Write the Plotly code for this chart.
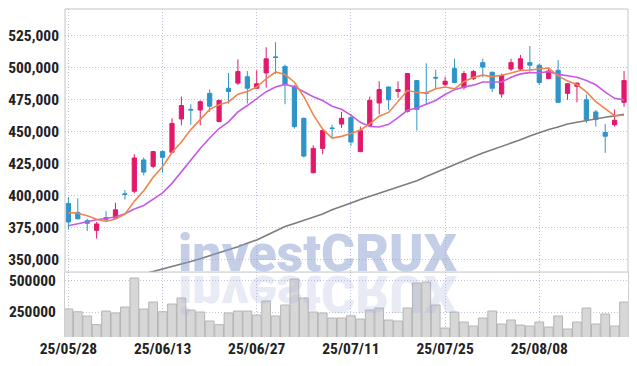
import plotly.graph_objects as go

dates = ["25/05/28","25/05/29","25/05/30","25/06/02","25/06/04","25/06/05","25/06/09","25/06/10","25/06/11","25/06/12",
         "25/06/13","25/06/16","25/06/17","25/06/18","25/06/19","25/06/20","25/06/23","25/06/24","25/06/25","25/06/26",
         "25/06/27","25/06/30","25/07/01","25/07/02","25/07/03","25/07/04","25/07/07","25/07/08","25/07/09","25/07/10",
         "25/07/11","25/07/14","25/07/15","25/07/16","25/07/17","25/07/18","25/07/21","25/07/22","25/07/23","25/07/24",
         "25/07/25","25/07/28","25/07/29","25/07/30","25/07/31","25/08/01","25/08/04","25/08/05","25/08/06","25/08/07",
         "25/08/08","25/08/11","25/08/12","25/08/13","25/08/14","25/08/18","25/08/19","25/08/20","25/08/21","25/08/22"]

opens = [394000,387000,380500,373000,383000,382500,401500,403500,428000,423000,
         434500,434000,460000,467500,467000,480000,458000,484000,488000,493000,
         484000,496000,508500,501000,485500,460500,418000,437000,453000,456000,
         461000,434500,455000,472500,485000,481500,466000,490000,480500,492500,
         487000,499500,484500,491500,504000,496500,479500,499000,499000,504000,
         502000,491500,498000,480000,485500,475000,465500,449500,455500,473000]
highs = [399000,398000,382000,379500,388000,394500,404500,432500,430000,435000,
         435500,460500,477500,471500,474500,483000,475000,496000,506500,497500,
         498000,516000,520000,502500,486500,461000,439500,451500,455500,465500,
         463500,454000,477500,489500,485500,489500,496000,490500,503500,498500,
         493000,507000,497500,498500,507000,497000,495500,507000,510000,517000,
         503000,500000,506000,488000,488500,479000,467000,456000,467500,497500]
lows = [373500,381500,372500,366500,380000,382000,397000,402000,416000,421500,
        418000,433500,455000,455500,455000,465500,457500,472000,486500,472000,
        483500,484500,495000,471500,452500,430000,417500,432500,445000,453000,
        439000,434000,454500,463500,467000,476500,465000,451000,471000,484000,
        485500,488000,483000,490500,492500,481000,476500,497500,497500,497000,
        486500,491000,472500,475000,473000,457000,454000,433500,454000,469500]
closes = [379500,382000,378500,378000,381500,389000,401000,429500,418500,434500,
          430000,456500,470500,467000,473500,470000,474500,481500,497000,484000,
          487500,507000,508000,487000,454000,431000,437000,451000,452500,460500,
          442000,451000,474500,483000,475000,483000,495500,467500,480000,492000,
          489500,488500,495500,497000,500500,484000,494000,504000,507000,502000,
          488500,497500,473000,487500,488000,459500,459500,446500,459000,490000]
ma5 = [386800,386400,384400,381700,379900,381800,385600,395800,403900,414500,
       422700,433800,442000,451700,459500,467500,471100,473300,479300,481400,
       484900,491400,496700,494700,488700,477400,463400,452000,445100,446400,
       448600,451400,456100,462200,465100,473300,482200,480800,480200,483600,
       484900,483500,489100,492500,494200,493100,494200,495900,497900,498200,
       499100,499800,493600,489700,486900,481100,473500,468200,462500,462900]
ma10 = [376600,377900,379700,381300,382600,383400,386000,389700,392400,397200,
        402300,409700,418900,427800,437000,445100,452500,457700,465500,470500,
        476200,481300,485000,487000,485100,481200,477400,474400,469900,467600,
        463000,457400,454100,453700,455800,461000,466800,468500,471200,474400,
        479100,482900,485000,486400,488900,489000,488900,492500,495200,496200,
        496100,497000,494800,493800,492600,490100,486700,480900,476100,474900]
ma60 = [323400,325300,327200,329100,331000,332900,334800,336700,338600,340500,
        342500,344300,346200,348600,350800,353100,355500,357800,360200,362900,
        365500,369000,372800,376000,378400,380800,382900,385800,389000,391900,
        394300,397000,399500,402200,404600,407000,409300,411800,415000,418200,
        421400,424400,427400,430400,433400,435900,438500,441100,443700,446600,
        449300,451700,453800,456000,457400,458800,460000,461300,462400,463600]
volumes = [274000,252000,218000,149000,258000,242000,290000,522000,274000,330000,
           252000,314000,362000,266000,250000,178000,149000,242000,258000,258000,
           226000,338000,218000,306000,514000,362000,250000,242000,202000,202000,
           220000,194000,266000,282000,186000,178000,282000,482000,490000,306000,
           122000,250000,170000,138000,202000,258000,154000,186000,146000,138000,
           170000,130000,218000,114000,170000,282000,154000,234000,138000,330000]

x_ticks = ["25/05/28","25/06/13","25/06/27","25/07/11","25/07/25","25/08/08"]
price_ticks = [350000,375000,400000,425000,450000,475000,500000,525000]
volume_ticks = [250000,500000]

RED = "#e2196b"
BLUE = "#2f94c7"
VOL_DOMAIN = 0.198

fig = go.Figure()
fig.add_trace(go.Candlestick(
    x=dates, open=opens, high=highs, low=lows, close=closes,
    increasing=dict(line=dict(color=RED, width=1), fillcolor=RED),
    decreasing=dict(line=dict(color=BLUE, width=1), fillcolor=BLUE),
    whiskerwidth=0, hoverinfo="skip", showlegend=False, xaxis="x", yaxis="y"))
fig.add_trace(go.Scatter(x=dates, y=ma60, mode="lines", line=dict(color="#7d7d7d", width=1.6),
                         hoverinfo="skip", showlegend=False, xaxis="x", yaxis="y"))
fig.add_trace(go.Scatter(x=dates, y=ma10, mode="lines", line=dict(color="#c65ae6", width=1.6),
                         hoverinfo="skip", showlegend=False, xaxis="x", yaxis="y"))
fig.add_trace(go.Scatter(x=dates, y=ma5, mode="lines", line=dict(color="#f0854f", width=1.6),
                         hoverinfo="skip", showlegend=False, xaxis="x", yaxis="y"))
fig.add_trace(go.Bar(x=dates, y=volumes, marker=dict(color="#d7d7d7", line=dict(color="#b5b5b5", width=1)),
                     hoverinfo="skip", showlegend=False, xaxis="x", yaxis="y2"))

tickfont = dict(family="Liberation Sans Narrow, Roboto Condensed, Arial Narrow, sans-serif",
                size=15.5, color="#222222", weight="bold")
grid = dict(showgrid=True, gridcolor="#bcc3da", gridwidth=1, griddash="1px,2px")

fig.update_layout(
    width=637, height=366,
    margin=dict(l=64, r=8, t=9, b=29, pad=0),
    paper_bgcolor="white", plot_bgcolor="white",
    showlegend=False, bargap=0.07, boxgap=0.36,
    xaxis=dict(type="category", range=[-0.36, 59.42], anchor="y2", rangeslider=dict(visible=False),
               tickmode="array", tickvals=x_ticks, ticktext=x_ticks, ticks="", tickfont=tickfont,
               showline=False, zeroline=False, **grid),
    yaxis=dict(domain=[VOL_DOMAIN, 1], range=[340400, 545900], tickmode="array", tickvals=price_ticks,
               tickformat=",d", ticks="", tickfont=tickfont, zeroline=False, showline=False,
               ticklabelstandoff=5, **grid),
    yaxis2=dict(domain=[0, VOL_DOMAIN], range=[50300, 569500], tickmode="array", tickvals=volume_ticks,
                tickformat="d", ticks="", tickfont=tickfont, zeroline=False,
                showline=True, mirror=True, linecolor="#cfcfcf", linewidth=1,
                ticklabelstandoff=5, **grid),
    shapes=[dict(type="rect", xref="paper", yref="paper", x0=0, x1=1, y0=VOL_DOMAIN, y1=1,
                 line=dict(color="#c4c4c4", width=1), layer="above")],
    annotations=[
        dict(text="investCRUX", xref="paper", yref="paper", x=0.449, y=0.2545, xanchor="center", yanchor="middle",
             showarrow=False, font=dict(family="Roboto", size=52, color="rgba(140,157,208,0.5)", weight=900)),
        dict(text="investCRUX", xref="paper", yref="paper", x=0.449, y=0.2545, xanchor="center", yanchor="middle",
             showarrow=False, font=dict(family="Roboto", size=52, color="rgba(165,176,220,0.27)", weight=900)),
    ],
)

post = """
document.body.style.margin='0';
var gd = document.getElementById('{plot_id}');
function flipRefl(){
  var anns = gd.querySelectorAll('g.annotation');
  if (anns.length < 2) return;
  var t = anns[1].querySelector('text');
  if (!t) return;
  var y0 = parseFloat(t.getAttribute('y'));
  if (isNaN(y0)) { var b = t.getBBox(); y0 = b.y + b.height*0.79; }
  var yy = y0 + 2.5;
  t.setAttribute('transform', 'translate(0,' + (2*yy) + ') scale(1,-1)');
}
flipRefl();
setTimeout(flipRefl, 50);
if (gd.on) gd.on('plotly_afterplot', flipRefl);
"""

fig.write_html("out.html", post_script=post, config={"displayModeBar": False})
